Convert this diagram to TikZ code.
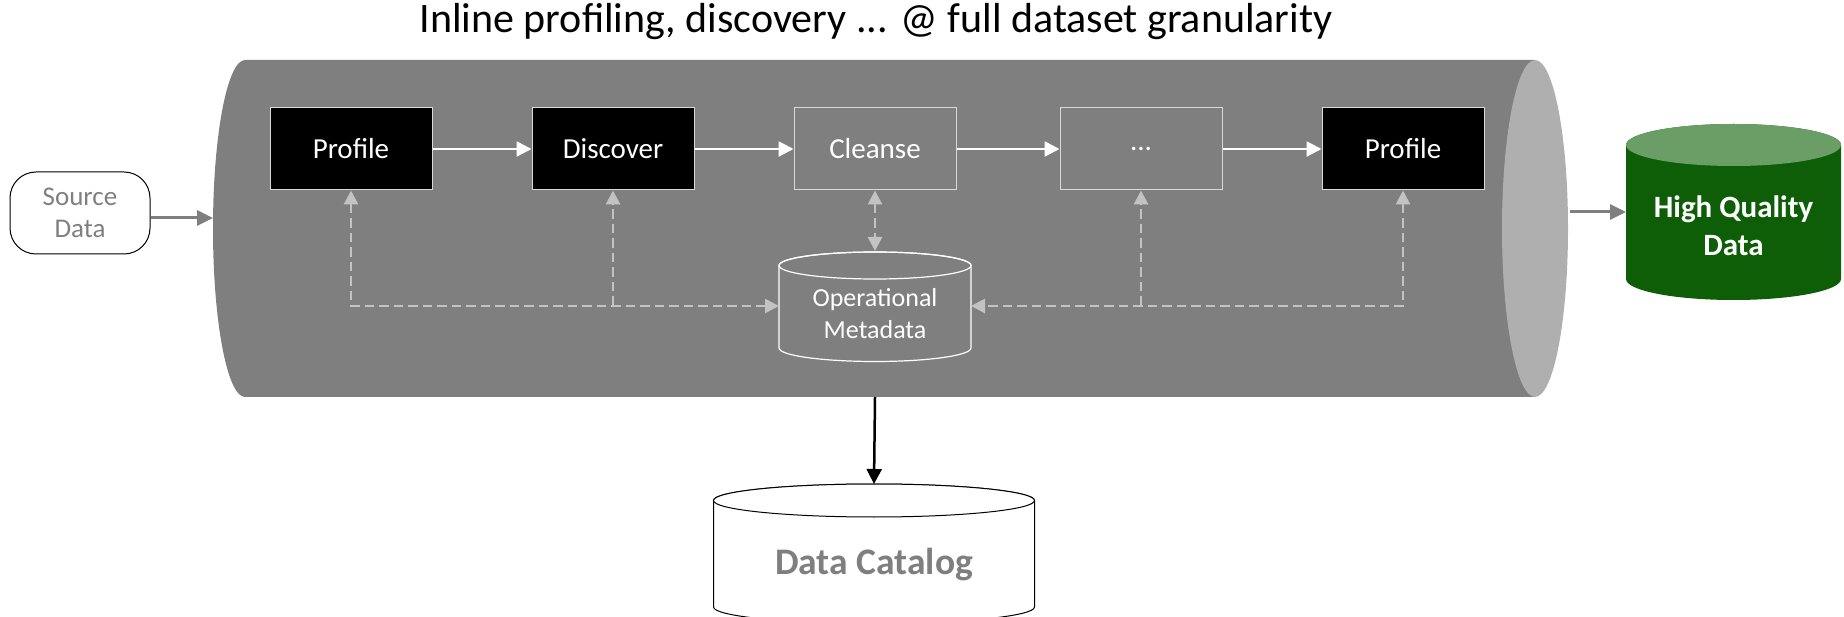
\documentclass[tikz,border=0pt]{standalone}
\usepackage{fontspec}
\setmainfont{Carlito}
\usetikzlibrary{arrows.meta}

\definecolor{tubegray}{HTML}{7F7F7F}
\definecolor{tubeend}{HTML}{AFAFAF}
\definecolor{dashgray}{HTML}{C3C3C3}
\definecolor{edgegray}{HTML}{D9D9D9}
\definecolor{hqbody}{HTML}{0E5E08}
\definecolor{hqtop}{HTML}{6A9E66}
\definecolor{labelgray}{HTML}{7F7F7F}

% upright cylinder: body style, top style, centre x, top ellipse y, bottom ellipse y, rx, ry
\newcommand\drawcyl[7]{%
  \path[#1] (#3-#6,#4) -- (#3-#6,#5)
    arc[start angle=180,end angle=360,x radius=#6,y radius=#7]
    -- (#3+#6,#4)
    arc[start angle=0,end angle=180,x radius=#6,y radius=#7] -- cycle;
  \path[#2] (#3,#4) ellipse[x radius=#6,y radius=#7];
}

\begin{document}
\begin{tikzpicture}[x=1pt,y=1pt,
  stage/.style={rectangle, draw=edgegray, line width=1pt,
    minimum width=162pt, minimum height=82pt, inner sep=0pt,
    text=white, font=\fontsize{29}{35}\selectfont},
  darkstage/.style={stage, fill=black},
  flow/.style={draw=white, line width=2.5pt, -{Triangle[length=15pt,width=15pt]}},
  meta/.style={draw=dashgray, line width=2.8pt, dash pattern=on 9.5pt off 5pt,
    >={Triangle[length=14pt,width=14pt]}},
  feed/.style={draw=tubegray, line width=3pt, -{Triangle[length=16pt,width=15pt]}},
  extent/.style={rectangle, inner sep=0pt, outer sep=0pt}
]
\useasboundingbox (0,0) rectangle (1844,616);
\clip (0,0) rectangle (1844,616);

% title
\node[anchor=base, font=\fontsize{42}{50}\selectfont] (title) at (876,583)
  {Inline profiling, discovery ... @ full dataset granularity};

% pipeline tube
\fill[tubegray] (245,556) -- (1535,556) -- (1535,219) -- (245,219)
  arc[start angle=270,end angle=90,x radius=32,y radius=168.5] -- cycle;
\fill[tubeend] (1535,387.5) ellipse[x radius=33,y radius=168.5];
\coordinate (tubeL) at (213,398);
\coordinate (tubeR) at (1570,404);
\coordinate (tubeB) at (875,219);

% stages
\node[darkstage] (p1) at (351,467) {Profile};
\node[darkstage] (p2) at (613,467) {Discover};
\node[stage]     (p3) at (875,467) {Cleanse};
\node[stage]     (p4) at (1141,467) {...};
\node[darkstage] (p5) at (1403,467) {Profile};

\draw[flow] (p1) -- (p2);
\draw[flow] (p2) -- (p3);
\draw[flow] (p3) -- (p4);
\draw[flow] (p4) -- (p5);

% operational metadata store
\drawcyl{draw=white, line width=1.2pt}{draw=white, line width=1.2pt}{875}{350.5}{268}{96}{13.5}
\node[extent, minimum width=192pt, minimum height=110pt] (om) at (875,310) {};
\node[font=\fontsize{26}{32}\selectfont, text=white, align=center] (omlabel) at (875,302)
  {Operational\\Metadata};

\draw[meta,<->] (p1.south) |- (om.west);
\draw[meta,->] (p2.south |- om.west) -- (p2.south);
\draw[meta,<->] (p5.south) |- (om.east);
\draw[meta,->] (p4.south |- om.east) -- (p4.south);
\draw[meta,<->] (p3.south) -- (om.north);

% source
\node[draw=black, line width=1pt, rounded corners=26pt, minimum width=140pt,
  minimum height=82pt, align=center, text=labelgray,
  font=\fontsize{27}{32}\selectfont] (src) at (80,403) {Source\\Data};
\draw[feed] (src.east |- tubeL) -- (tubeL);

% high quality output
\drawcyl{fill=hqbody}{fill=hqtop}{1733.5}{471}{337}{107.5}{21}
\node[extent, minimum width=215pt, minimum height=176pt] (hq) at (1733.5,404) {};
\node[font=\bfseries\fontsize{31}{37.5}\selectfont, text=white, align=center] (hqlabel)
  at (1733.5,390.5) {High Quality\\Data};
\draw[feed] (tubeR) -- (hq.west);

% data catalog
\drawcyl{draw=black, line width=1pt, fill=white}{draw=black, line width=1pt, fill=white}{874}{115.5}{9}{160.5}{16.5}
\node[extent, minimum width=321pt, minimum height=140pt] (cat) at (874,62) {};
\node[font=\bfseries\fontsize{37.5}{45}\selectfont, text=labelgray] (catlabel) at (874,51) {Data Catalog};
\draw[line width=2.5pt, -{Triangle[length=15pt,width=15pt]}] (tubeB) -- (cat.north);
\end{tikzpicture}
\end{document}
